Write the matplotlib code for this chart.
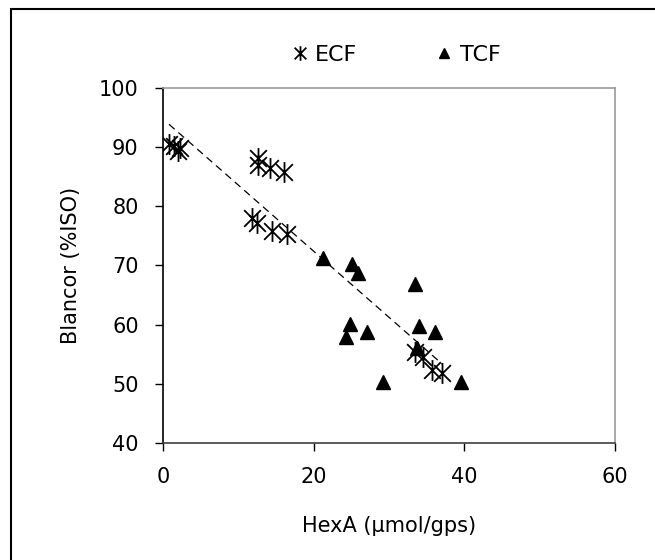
import numpy as np
import matplotlib.pyplot as plt
from matplotlib.path import Path
from matplotlib.patches import Rectangle

# ECF samples (HexA, brightness)
ecf_x = [0.8, 1.5, 2.0, 2.2, 12.6, 12.6, 14.2, 16.1, 11.8, 12.5, 14.5, 16.5, 33.5, 34.5, 35.7, 37.1]
ecf_y = [90.5, 90.2, 89.3, 89.8, 88.2, 87.0, 86.5, 85.8, 78.0, 77.2, 75.8, 75.3, 55.3, 54.6, 52.4, 51.9]

# TCF samples
tcf_x = [21.2, 25.1, 25.9, 33.5, 24.8, 24.3, 27.1, 34.0, 36.1, 33.7, 29.2, 39.6]
tcf_y = [71.3, 70.3, 68.7, 66.9, 60.1, 57.9, 58.8, 59.8, 58.8, 56.1, 50.3, 50.3]

plt.rcParams['font.family'] = ['DejaVu Sans']

fig = plt.figure(figsize=(6.55, 5.6), dpi=100)
ax = fig.add_axes([163 / 655, 1 - 443 / 560, 452 / 655, 355 / 560])

# Excel-like asterisk: X plus vertical bar
star = Path([(-1, -1), (1, 1), (-1, 1), (1, -1), (0, -1.25), (0, 1.25)],
            [Path.MOVETO, Path.LINETO, Path.MOVETO, Path.LINETO, Path.MOVETO, Path.LINETO])

ax.plot(ecf_x, ecf_y, linestyle='none', marker=star, markersize=15,
        markeredgecolor='black', markerfacecolor='none', markeredgewidth=1.3, label='ECF')
ax.plot(tcf_x, tcf_y, linestyle='none', marker='^', markersize=10,
        color='black', label='TCF')

# linear trend over the ECF series
k, b = np.polyfit(ecf_x, ecf_y, 1)
tx = np.array([min(ecf_x), max(ecf_x)])
ax.plot(tx, k * tx + b, color='black', linestyle=(0, (6, 4)), linewidth=0.9)

ax.set_xlim(0, 60)
ax.set_ylim(40, 100)
ax.set_xticks([0, 20, 40, 60])
ax.set_yticks([40, 50, 60, 70, 80, 90, 100])
ax.tick_params(axis='both', direction='out', length=6, width=1, labelsize=15, colors='black')
ax.tick_params(axis='x', pad=11)
ax.tick_params(axis='y', pad=11.5)
ax.spines['left'].set_color('black')
ax.spines['bottom'].set_color('#404040')
ax.spines['top'].set_color('#999999')
ax.spines['right'].set_color('#999999')
for s in ax.spines.values():
    s.set_linewidth(1.2)

ax.set_xlabel('HexA (\u03bcmol/gps)', fontsize=15, labelpad=21)
ax.set_ylabel('Blancor (%ISO)', fontsize=15, labelpad=13)

ax.legend(loc='lower center', bbox_to_anchor=(0.51, 1.008), ncol=2, frameon=False,
          fontsize=16, handletextpad=0.1, columnspacing=3.3, handlelength=1.2,
          markerscale=0.7)

# chart outer border (right/bottom fall off the image)
fig.patches.append(Rectangle((11 / 655, -0.1), 1.2, 1 - 9 / 560 + 0.1, transform=fig.transFigure,
                             fill=False, edgecolor='black', linewidth=1.5))

fig.savefig('out.png', dpi=100)
